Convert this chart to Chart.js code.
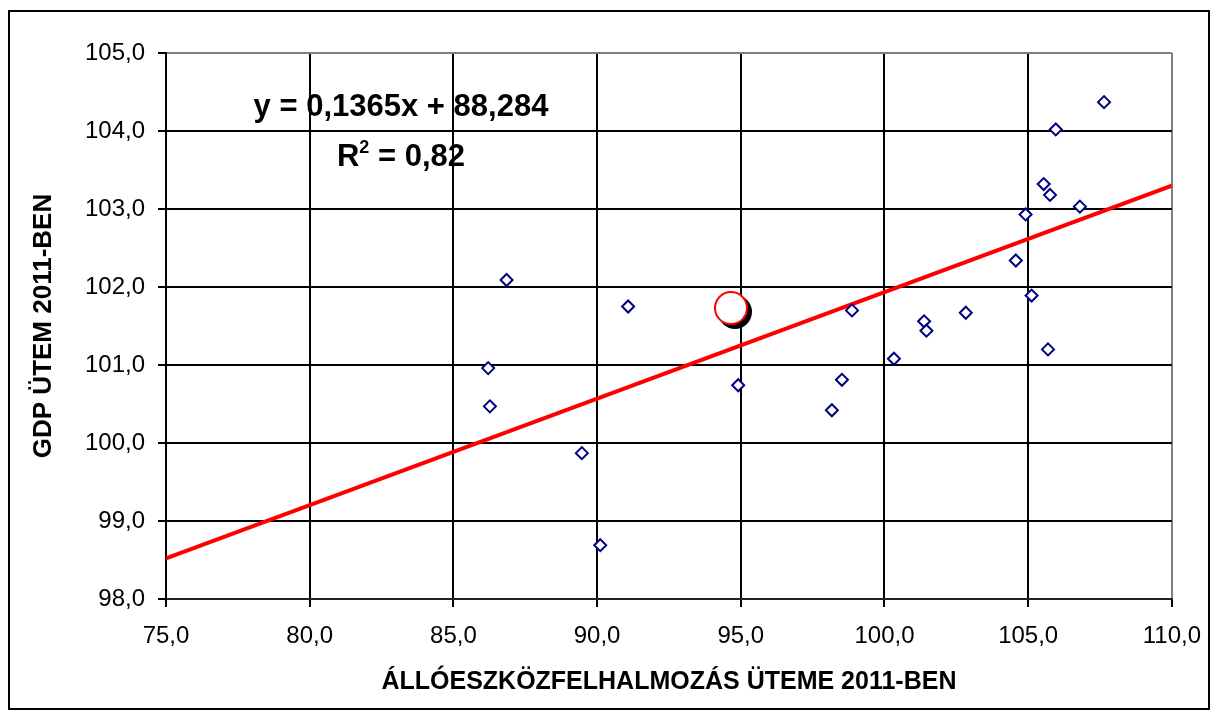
<!DOCTYPE html>
<html lang="hu">
<head>
<meta charset="utf-8">
<title>GDP és állóeszköz-felhalmozás, 2011</title>
<script src="https://cdn.jsdelivr.net/npm/chart.js@4.4.1/dist/chart.umd.min.js"></script>
<style>
  html, body { margin: 0; padding: 0; background: #fff; }
  canvas { display: block; }
</style>
</head>
<body>
<canvas id="scatterChart" width="1216" height="718"></canvas>
<script>
// Állóeszköz-felhalmozás üteme (x) és GDP ütem (y), 2011
const investRate = [86.85, 91.08, 98.87, 107.64, 105.96, 105.54, 105.76, 106.80, 104.91, 104.57, 105.12, 102.83,
    101.38, 101.46, 100.33, 105.69, 86.21, 86.27, 94.91, 98.52, 98.17, 89.47, 90.11];
const gdpRate = [102.09, 101.75, 101.70, 104.37, 104.02, 103.32, 103.18, 103.03, 102.93, 102.34, 101.89, 101.67,
    101.56, 101.44, 101.08, 101.20, 100.96, 100.47, 100.74, 100.81, 100.42, 99.87, 98.69];

// kiemelt pont
const highlightInvest = [94.66];
const highlightGdp = [101.73];

// lineáris trend: y = 0,1365x + 88,284
const trendSlope = 0.1365;
const trendIntercept = 88.284;
const trendR2 = '0,82';

const xTickValues = [75, 80, 85, 90, 95, 100, 105, 110];
const yTickValues = [98, 99, 100, 101, 102, 103, 104, 105];

const fmt = v => Number(v).toFixed(1).replace('.', ',');
const fmtCoef = v => String(v).replace('.', ',');

const FONT = '"Liberation Sans", Arial, sans-serif';
Chart.defaults.font.family = FONT;
Chart.defaults.color = '#000';

const xMin = xTickValues[0];
const xMax = xTickValues[xTickValues.length - 1];
const trendPoints = [xMin, xMax].map(x => ({ x, y: trendSlope * x + trendIntercept }));

const pointsOf = (xs, ys) => xs.map((x, i) => ({ x, y: ys[i] }));

const HIGHLIGHT_RADIUS = 16;

// keret, árnyék a kiemelt pont alatt, trendegyenlet felirata
const decor = {
    id: 'decor',
    beforeDatasetDraw(chart, args) {
        if (args.index !== 0) return;
        const ctx = chart.ctx;
        ctx.save();
        ctx.fillStyle = '#000';
        args.meta.data.forEach(pt => {
            ctx.beginPath();
            ctx.arc(pt.x + 4, pt.y + 4, HIGHLIGHT_RADIUS + 1, 0, Math.PI * 2);
            ctx.fill();
        });
        ctx.restore();
    },
    afterDraw(chart) {
        const ctx = chart.ctx;
        const area = chart.chartArea;
        ctx.save();
        ctx.strokeStyle = '#000';
        ctx.lineWidth = 2;
        ctx.strokeRect(9, 11, 1200, 698);

        ctx.fillStyle = '#000';
        ctx.textBaseline = 'alphabetic';
        ctx.textAlign = 'left';

        const cx = area.left + 235;
        ctx.font = 'bold 31px ' + FONT;
        const eq = 'y = ' + fmtCoef(trendSlope) + 'x + ' + fmtCoef(trendIntercept);
        const eqW = ctx.measureText(eq).width;
        ctx.fillText(eq, cx - eqW / 2, area.top + 63);

        // R² sor, felső indexszel
        const rW = ctx.measureText('R').width;
        const restText = ' = ' + trendR2;
        const restW = ctx.measureText(restText).width;
        ctx.font = 'bold 18px ' + FONT;
        const supW = ctx.measureText('2').width;
        const total = rW + supW + restW;
        let x = cx - total / 2;
        const base = area.top + 113;
        ctx.font = 'bold 31px ' + FONT;
        ctx.fillText('R', x, base);
        x += rW;
        ctx.font = 'bold 18px ' + FONT;
        ctx.fillText('2', x, base - 13);
        x += supW;
        ctx.font = 'bold 31px ' + FONT;
        ctx.fillText(restText, x, base);
        ctx.restore();
    }
};

const ctx = document.getElementById('scatterChart').getContext('2d');
new Chart(ctx, {
    type: 'scatter',
    data: {
        datasets: [
            {
                label: 'Magyarország',
                data: pointsOf(highlightInvest, highlightGdp),
                pointStyle: 'circle',
                pointRadius: HIGHLIGHT_RADIUS,
                pointBorderWidth: 2,
                borderColor: '#ff0000',
                backgroundColor: '#ffffff',
                order: 0
            },
            {
                label: 'Országok',
                data: pointsOf(investRate, gdpRate),
                pointStyle: 'rectRot',
                pointRadius: 6,
                pointBorderWidth: 2,
                borderColor: '#000080',
                backgroundColor: '#ffffff',
                order: 1
            },
            {
                type: 'line',
                label: 'Lineáris trend',
                data: trendPoints,
                borderColor: '#ff0000',
                borderWidth: 4,
                pointRadius: 0,
                fill: false,
                order: 2
            }
        ]
    },
    options: {
        responsive: false,
        animation: false,
        events: [],
        layout: { padding: { left: 14, top: 53, right: 44, bottom: 14 } },
        plugins: {
            legend: { display: false },
            tooltip: { enabled: false }
        },
        scales: {
            x: {
                type: 'linear',
                min: xMin,
                max: xMax,
                afterBuildTicks: scale => { scale.ticks = xTickValues.map(v => ({ value: v })); },
                afterFit: scale => { scale.height = 718 - 14 - 599; },
                ticks: {
                    font: { size: 24 },
                    padding: 15,
                    maxRotation: 0,
                    callback: v => fmt(v)
                },
                grid: {
                    color: c => (c.tick && c.tick.value === xMax ? '#808080' : '#000'),
                    lineWidth: 2,
                    tickLength: 8,
                    tickColor: '#000',
                    tickWidth: 2
                },
                border: { color: '#222', width: 2 },
                title: {
                    display: true,
                    text: 'ÁLLÓESZKÖZFELHALMOZÁS ÜTEME 2011-BEN',
                    font: { size: 25, weight: 'bold' },
                    padding: { top: 0, bottom: 7 }
                }
            },
            y: {
                type: 'linear',
                min: yTickValues[0],
                max: yTickValues[yTickValues.length - 1],
                afterBuildTicks: scale => { scale.ticks = yTickValues.map(v => ({ value: v })); },
                afterFit: scale => { scale.width = 166 - 14; },
                ticks: {
                    font: { size: 24 },
                    padding: 13,
                    callback: v => fmt(v)
                },
                grid: {
                    color: c => (c.tick && c.tick.value === yTickValues[yTickValues.length - 1] ? '#808080' : '#000'),
                    lineWidth: 2,
                    tickLength: 8,
                    tickColor: '#000',
                    tickWidth: 2
                },
                border: { color: '#000', width: 2 },
                title: {
                    display: true,
                    text: 'GDP ÜTEM 2011-BEN',
                    font: { size: 26, weight: 'bold' },
                    padding: { top: 14, bottom: 0 }
                }
            }
        }
    },
    plugins: [decor]
});
</script>
</body>
</html>
